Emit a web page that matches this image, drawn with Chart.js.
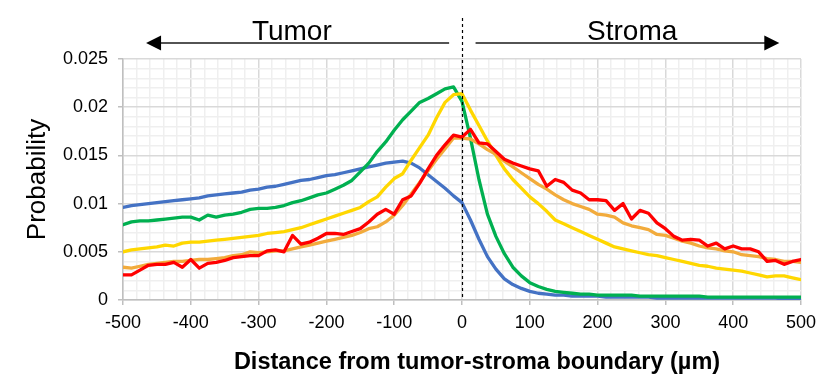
<!DOCTYPE html>
<html><head><meta charset="utf-8">
<script src="https://cdn.jsdelivr.net/npm/chart.js@4.4.0/dist/chart.umd.min.js"></script>
<style>html,body{margin:0;padding:0;background:#fff;}canvas{display:block;}</style>
</head><body>
<canvas id="c" width="830" height="378"></canvas>
<script>
const distances = [-500,-487.5,-475,-462.5,-450,-437.5,-425,-412.5,-400,-387.5,-375,-362.5,-350,-337.5,-325,-312.5,-300,-287.5,-275,-262.5,-250,-237.5,-225,-212.5,-200,-187.5,-175,-162.5,-150,-137.5,-125,-112.5,-100,-87.5,-75,-62.5,-50,-37.5,-25,-12.5,0,12.5,25,37.5,50,62.5,75,87.5,100,112.5,125,137.5,150,162.5,175,187.5,200,212.5,225,237.5,250,262.5,275,287.5,300,312.5,325,337.5,350,362.5,375,387.5,400,412.5,425,437.5,450,462.5,475,487.5,500];

const blueSeries = [0.0096,0.0098,0.0099,0.0100,0.0101,0.0102,0.0103,0.0104,0.0105,0.0106,
0.0108,0.0109,0.0110,0.0111,0.0112,0.0114,0.0115,0.0117,0.0118,0.0120,
0.0122,0.0124,0.0125,0.0127,0.0129,0.0130,0.0132,0.0134,0.0136,0.0138,
0.0140,0.0142,0.0143,0.0144,0.0142,0.0137,0.0130,0.0123,0.0116,0.0108,
0.0101,0.0083,0.0063,0.0045,0.0032,0.0022,0.0016,0.0012,0.0009,0.0007,
0.0006,0.0005,0.0005,0.0004,0.0004,0.0004,0.0004,0.0003,0.0003,0.0003,
0.0003,0.0003,0.0003,0.0002,0.0002,0.0002,0.0002,0.0002,0.0002,0.0002,
0.0002,0.0002,0.0002,0.0002,0.0002,0.0002,0.0002,0.0002,0.0001,0.0001,
0.0001];

const greenSeries = [0.0078,0.0081,0.0082,0.0082,0.0083,0.0084,0.0085,0.0086,0.0086,0.0083,
0.0088,0.0086,0.0088,0.0089,0.0091,0.0094,0.0095,0.0095,0.0096,0.0098,
0.0101,0.0103,0.0106,0.0109,0.0111,0.0115,0.0119,0.0124,0.0133,0.0142,
0.0154,0.0164,0.0176,0.0187,0.0196,0.0205,0.0209,0.0214,0.0219,0.0221,
0.0206,0.0168,0.0125,0.0089,0.0066,0.0048,0.0034,0.0025,0.0018,0.0014,
0.0011,0.0009,0.0008,0.0007,0.0006,0.0006,0.0005,0.0005,0.0005,0.0005,
0.0005,0.0004,0.0004,0.0004,0.0004,0.0004,0.0004,0.0004,0.0004,0.0003,
0.0003,0.0003,0.0003,0.0003,0.0003,0.0003,0.0003,0.0003,0.0003,0.0003,
0.0003];

const yellowSeries = [0.0050,0.0052,0.0053,0.0054,0.0055,0.0057,0.0056,0.0059,0.0060,0.0060,
0.0061,0.0062,0.0063,0.0064,0.0065,0.0066,0.0067,0.0069,0.0070,0.0071,
0.0073,0.0075,0.0078,0.0081,0.0084,0.0087,0.0090,0.0093,0.0096,0.0102,
0.0107,0.0117,0.0126,0.0131,0.0145,0.0158,0.0171,0.0189,0.0205,0.0213,
0.0214,0.0197,0.0181,0.0165,0.0150,0.0136,0.0125,0.0116,0.0107,0.0100,
0.0092,0.0083,0.0079,0.0075,0.0071,0.0067,0.0063,0.0059,0.0055,0.0053,
0.0051,0.0049,0.0047,0.0046,0.0044,0.0042,0.0040,0.0038,0.0036,0.0035,
0.0033,0.0032,0.0031,0.0030,0.0028,0.0026,0.0024,0.0025,0.0025,0.0023,
0.0021];

const orangeSeries = [0.0034,0.0033,0.0035,0.0037,0.0038,0.0039,0.0040,0.0040,0.0041,0.0042,
0.0042,0.0043,0.0044,0.0046,0.0047,0.0050,0.0049,0.0050,0.0051,0.0051,
0.0053,0.0055,0.0057,0.0059,0.0061,0.0063,0.0065,0.0067,0.0070,0.0074,
0.0076,0.0081,0.0088,0.0098,0.0110,0.0122,0.0134,0.0146,0.0157,0.0168,
0.0168,0.0167,0.0162,0.0156,0.0151,0.0144,0.0138,0.0132,0.0126,0.0120,
0.0115,0.0109,0.0104,0.0100,0.0097,0.0094,0.0089,0.0088,0.0086,0.0080,
0.0077,0.0075,0.0073,0.0068,0.0067,0.0064,0.0061,0.0059,0.0056,0.0054,
0.0053,0.0051,0.0050,0.0047,0.0046,0.0045,0.0043,0.0042,0.0040,0.0040,
0.0039];

const redSeries = [0.0026,0.0026,0.0031,0.0036,0.0037,0.0037,0.0039,0.0034,0.0042,0.0033,
0.0038,0.0039,0.0041,0.0044,0.0045,0.0046,0.0046,0.0051,0.0052,0.0050,
0.0067,0.0058,0.0060,0.0064,0.0069,0.0069,0.0068,0.0071,0.0074,0.0081,
0.0089,0.0094,0.0089,0.0104,0.0108,0.0121,0.0136,0.0150,0.0161,0.0171,
0.0169,0.0177,0.0163,0.0162,0.0154,0.0146,0.0142,0.0139,0.0136,0.0134,
0.0118,0.0125,0.0122,0.0114,0.0111,0.0104,0.0104,0.0103,0.0093,0.0100,
0.0084,0.0093,0.0090,0.0080,0.0074,0.0066,0.0062,0.0063,0.0062,0.0056,
0.0059,0.0053,0.0056,0.0053,0.0053,0.0050,0.0040,0.0041,0.0037,0.0040,
0.0042];

const xTickValues = [-500,-400,-300,-200,-100,0,100,200,300,400,500];
const xTickLabels = ['-500','-400','-300','-200','-100','0','100','200','300','400','500'];
const yTickValues = [0,0.005,0.01,0.015,0.02,0.025];
const yTickLabels = ['0','0.005','0.01','0.015','0.02','0.025'];

const FONT = '"Liberation Sans", Arial, sans-serif';
const MAJOR = '#d9d9d9', MINOR = '#efefef';

function pts(ys){ return distances.map((d,i)=>({x:d,y:ys[i]})); }
function ds(ys,color){ return {data:pts(ys),borderColor:color,backgroundColor:color,borderWidth:3.3,pointRadius:0,tension:0,borderJoinStyle:'round',borderCapStyle:'round',fill:false}; }

const isMajorX = v => xTickValues.indexOf(Math.round(v)) >= 0;
const isMajorY = v => yTickValues.indexOf(Math.round(v*1000)/1000) >= 0;

const annot = {
  id:'annot',
  afterDatasetsDraw(chart){
    const {ctx, chartArea:a, scales:{x}} = chart;
    const px = Math.round(x.getPixelForValue(0)) + 0.5;
    ctx.save();
    ctx.strokeStyle = '#000'; ctx.lineWidth = 1.2; ctx.setLineDash([3,3]);
    ctx.beginPath(); ctx.moveTo(px, a.top - 41); ctx.lineTo(px, a.bottom); ctx.stroke();
    ctx.restore();
  },
  afterDraw(chart){
    const {ctx, chartArea:a, scales:{x}} = chart;
    const ay = a.top - 16;
    ctx.save();
    ctx.strokeStyle = '#1a1a1a'; ctx.fillStyle = '#000'; ctx.lineWidth = 1.4;
    const lTip = x.getPixelForValue(-466), lEnd = x.getPixelForValue(-19);
    ctx.beginPath(); ctx.moveTo(lEnd, ay); ctx.lineTo(lTip + 14, ay); ctx.stroke();
    ctx.beginPath(); ctx.moveTo(lTip, ay); ctx.lineTo(lTip + 15, ay - 7.5); ctx.lineTo(lTip + 15, ay + 7.5); ctx.closePath(); ctx.fill();
    const rStart = x.getPixelForValue(20), rTip = x.getPixelForValue(468);
    ctx.beginPath(); ctx.moveTo(rStart, ay); ctx.lineTo(rTip - 14, ay); ctx.stroke();
    ctx.beginPath(); ctx.moveTo(rTip, ay); ctx.lineTo(rTip - 15, ay - 7.5); ctx.lineTo(rTip - 15, ay + 7.5); ctx.closePath(); ctx.fill();
    ctx.font = '28px ' + FONT; ctx.textAlign = 'center'; ctx.textBaseline = 'alphabetic';
    ctx.fillText('Tumor', x.getPixelForValue(-251), a.top - 19);
    ctx.fillText('Stroma', x.getPixelForValue(251), a.top - 19.5);
    ctx.font = 'bold 23.5px ' + FONT;
    ctx.fillText('Distance from tumor-stroma boundary (\u00B5m)', (a.left + a.right)/2 + 15, a.bottom + 69);
    ctx.translate(45, (a.top + a.bottom)/2);
    ctx.rotate(-Math.PI/2);
    ctx.font = '26px ' + FONT;
    ctx.fillText('Probability', 0, 0);
    ctx.restore();
  }
};

new Chart(document.getElementById('c'), {
  type:'line',
  data:{datasets:[ds(redSeries,'#ff0000'), ds(orangeSeries,'#f2ab3c'), ds(yellowSeries,'#ffd700'), ds(greenSeries,'#00b050'), ds(blueSeries,'#4472c4')]},
  options:{
    responsive:false, animation:false, devicePixelRatio:1,
    layout:{padding:{left:0,right:29,top:59,bottom:0}},
    plugins:{legend:{display:false}, tooltip:{enabled:false}},
    scales:{
      x:{type:'linear', min:-500, max:500,
        afterFit(s){ s.height = 78; },
        ticks:{stepSize:20, autoSkip:false, maxRotation:0, minRotation:0, padding:7, color:'#000',
          font:{family:FONT, size:18},
          callback(v){ const i = xTickValues.indexOf(Math.round(v)); return i>=0 ? xTickLabels[i] : ''; }},
        grid:{color:c=>isMajorX(c.tick.value)?MAJOR:MINOR, lineWidth:1.5, tickLength:5,
          tickColor:c=>isMajorX(c.tick.value)?'#bfbfbf':'rgba(0,0,0,0)', tickWidth:1.5},
        border:{color:'#bfbfbf', width:1.5}
      },
      y:{type:'linear', min:0, max:0.025,
        afterFit(s){ s.width = 123; },
        ticks:{stepSize:0.001, autoSkip:false, padding:10, color:'#000',
          font:{family:FONT, size:18},
          callback(v){ const i = yTickValues.indexOf(Math.round(v*1000)/1000); return i>=0 ? yTickLabels[i] : ''; }},
        grid:{color:c=>isMajorY(c.tick.value)?MAJOR:MINOR, lineWidth:1.5, tickLength:5,
          tickColor:c=>isMajorY(c.tick.value)?'#bfbfbf':'rgba(0,0,0,0)', tickWidth:1.5},
        border:{color:'#bfbfbf', width:1.5}
      }
    }
  },
  plugins:[annot]
});
</script>
</body></html>
